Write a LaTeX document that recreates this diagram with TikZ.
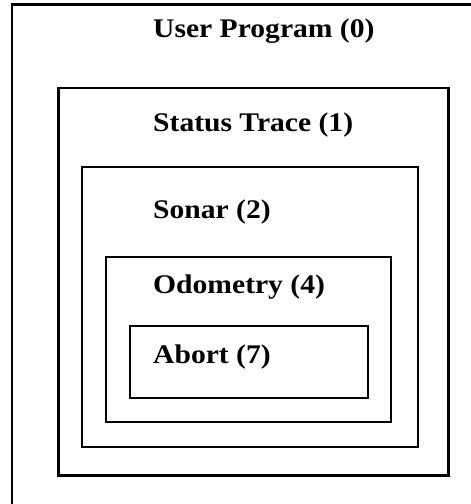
\documentclass[tikz,border=0pt]{standalone}
\usepackage{fontspec}
\newfontfamily\layerfont{Liberation Serif}[FakeStretch=1.1]
\usetikzlibrary{positioning}

\begin{document}
\begin{tikzpicture}[x=1bp, y=-1bp, line join=miter,
	box/.style={line width=2.4bp},
	layer/.style={anchor=base west, inner sep=0pt, font=\layerfont\bfseries\fontsize{27}{32}\selectfont}]
	\useasboundingbox (0,0) rectangle (471,504);

	% outer frame (only top and left edge in view)
	\draw[box] (12,504) -- (12,4.5) -- (471,4.5);

	% nested layers
	\draw[box] (58.5,88) rectangle (448.5,475.5);
	\draw[box] (82,167) rectangle (418,447);
	\draw[box] (106,257) rectangle (391,422);
	\draw[box] (130,326) rectangle (368,398);

	% layer names
	\node[layer] (user) at (153,38) {User Program (0)};
	\node[layer] (trace) at (153,132) {Status Trace (1)};
	\node[layer] (sonar) at (153,218) {Sonar (2)};
	\node[layer] (odo) at (153,293) {Odometry (4)};
	\node[layer] (abort) at (153,363) {Abort (7)};
\end{tikzpicture}
\end{document}
